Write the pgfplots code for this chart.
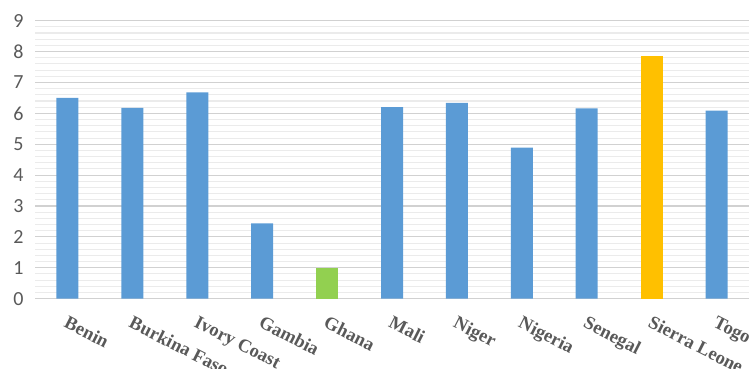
\documentclass[border=0pt]{standalone}
\usepackage{pgfplots}
\pgfplotsset{compat=1.18}
\usepackage{fontspec}
\setmainfont{Liberation Serif}
\newfontfamily\calib{Carlito}
\definecolor{barblue}{HTML}{5B9BD5}
\definecolor{bargreen}{HTML}{92D050}
\definecolor{bargold}{HTML}{FFC000}
\definecolor{txtgray}{HTML}{595959}
\begin{document}
\begin{tikzpicture}
\useasboundingbox (-26.25pt,-52.5pt) rectangle (535.5pt,224pt);
\begin{axis}[
  at={(0,0)}, anchor=south west,
  scale only axis, width=535.5pt, height=208.5pt,
  xmin=-0.5, xmax=10.5, ymin=0, ymax=9,
  ytick={0,...,9}, minor y tick num=4,
  ymajorgrids, yminorgrids,
  major grid style={draw=black!18, line width=0.8pt},
  minor grid style={draw=black!8, line width=0.8pt},
  axis line style={draw=none},
  tick style={draw=none},
  xtick={0,...,10},
  xticklabels={Benin,Burkina Faso,Ivory Coast,Gambia,Ghana,Mali,Niger,Nigeria,Senegal,Sierra Leone,Togo},
  xticklabel style={xshift=1pt, yshift=-8pt, rotate=-27, anchor=north west, font=\bfseries\fontsize{14}{16}\selectfont, text=txtgray, inner sep=0pt},
  yticklabel style={font=\calib\fontsize{15}{17}\selectfont, text=txtgray, xshift=-5pt},
  /pgf/number format/assume math mode=true,
  ybar, bar width=16.5pt, bar shift=0pt,
]
\addplot[fill=barblue, draw=none] coordinates {(0,6.5) (1,6.18) (2,6.68) (3,2.44) (5,6.2) (6,6.34) (7,4.89) (8,6.16) (10,6.09)};
\addplot[fill=bargreen, draw=none] coordinates {(4,0.98)};
\addplot[fill=bargold, draw=none] coordinates {(9,7.87)};
\end{axis}
\end{tikzpicture}
\end{document}
